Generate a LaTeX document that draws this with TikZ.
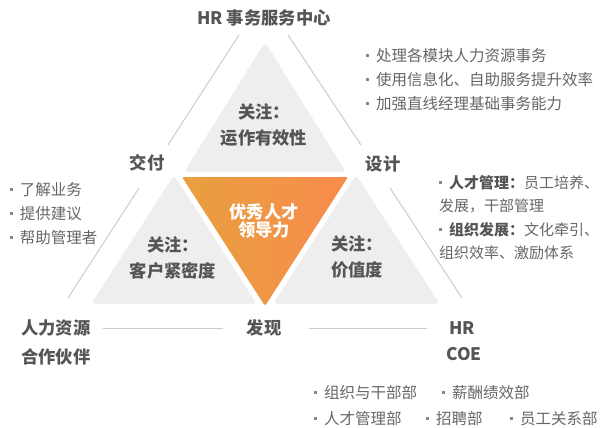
\documentclass[tikz,border=0pt]{standalone}
\usepackage{fontspec}
\setmainfont{Noto Sans CJK SC}
\definecolor{tri}{HTML}{EEEEEE}
\definecolor{hd}{HTML}{555555}
\definecolor{tx}{HTML}{666666}
\definecolor{bulc}{HTML}{888888}
\definecolor{ln}{HTML}{CCCCCC}
\definecolor{orL}{HTML}{E8A03E}
\definecolor{orR}{HTML}{F98B4E}
\newcommand\bul{{\color{bulc}\rule[0.3em]{2.8pt}{2.8pt}}\hspace{7pt}}
\begin{document}
\begin{tikzpicture}[x=1pt,y=-1pt,
  head/.style={font=\fontsize{17.3}{26}\selectfont\bfseries, text=hd, inner sep=0pt, align=center},
  bl/.style={font=\fontsize{15.5}{18}\selectfont, text=tx, inner sep=0pt, anchor=west},
  blr/.style={bl, font=\fontsize{15}{18}\selectfont},
  link/.style={draw=ln, line width=1pt},
  tribox/.style={fill=tri, rounded corners=4pt}]
\useasboundingbox (0,0) rectangle (603,428);
% triangles
\fill[tribox] (265,42) -- (346,172) -- (184,172) -- cycle;
\fill[tribox] (174,175) -- (257,304) -- (91,304) -- cycle;
\fill[tribox] (356,175) -- (440,304) -- (273,304) -- cycle;
\shade[left color=orL, right color=orR, rounded corners=1.5pt] (182,177) -- (348,177) -- (265,306) -- cycle;
% labels
\node[head] (top) at (264,18) {HR 事务服务中心};
\node[head] (jf) at (147,163) {交付};
\node[head] (sj) at (383,164) {设计};
\node[head] (fx) at (264,328) {发现};
\node[head] (hrbp1) at (56,328) {人力资源};
\node[head] (hrbp2) at (56,357) {合作伙伴};
\node[head] (coe1) at (462,328) {HR};
\node[head] (coe2) at (464,354) {COE};
\node[head] (t1) at (264,125) {关注：\\运作有效性};
\node[head] (t2) at (173,257.5) {关注：\\客户紧密度};
\node[head] (t3) at (357,257) {关注：\\价值度};
\node[head, text=white, font=\fontsize{17.3}{18.5}\selectfont\bfseries] (core) at (264,221) {优秀人才\\领导力};
% outer lines
\coordinate (L1) at (239,35); \coordinate (L2) at (168,145);
\coordinate (L3) at (139,188); \coordinate (L4) at (68,298);
\coordinate (R1) at (288,35); \coordinate (R2) at (361,145);
\coordinate (R3) at (390,188); \coordinate (R4) at (462,298);
\coordinate (B1) at (103,328); \coordinate (B2) at (223,328);
\coordinate (B3) at (309,328); \coordinate (B4) at (427,328);
\draw[link] (L1) -- (L2);
\draw[link] (L3) -- (L4);
\draw[link] (R1) -- (R2);
\draw[link] (R3) -- (R4);
\draw[link] (B1) -- (B2);
\draw[link] (B3) -- (B4);
% bullet lists
\node[bl] (a1) at (366,56) {\bul 处理各模块人力资源事务};
\node[bl] (a2) at (366,80) {\bul 使用信息化、自助服务提升效率};
\node[bl] (a3) at (366,104) {\bul 加强直线经理基础事务能力};
\node[bl] (c1) at (10,190) {\bul 了解业务};
\node[bl] (c2) at (10,214) {\bul 提供建议};
\node[bl] (c3) at (10,238) {\bul 帮助管理者};
\node[blr] (r1) at (439,183) {\bul{\bfseries\color{hd}人才管理：}员工培养、};
\node[blr] (r2) at (439,206) {发展，干部管理};
\node[blr] (r3) at (439,230) {\bul{\bfseries\color{hd}组织发展：}文化牵引、};
\node[blr] (r4) at (439,253) {组织效率、激励体系};
\node[bl] (b1) at (314,393) {\bul 组织与干部部};
\node[bl] (b2) at (442,393) {\bul 薪酬绩效部};
\node[bl] (b3) at (314,419) {\bul 人才管理部};
\node[bl] (b4) at (426,419) {\bul 招聘部};
\node[bl] (b5) at (510,419) {\bul 员工关系部};
\end{tikzpicture}
\end{document}
